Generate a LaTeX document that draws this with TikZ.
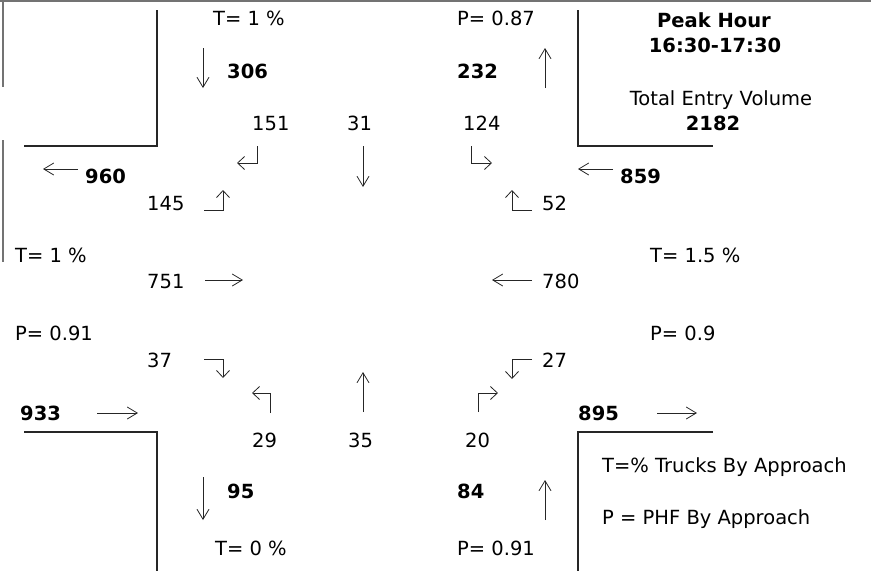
\documentclass[tikz,border=0pt]{standalone}
\usepackage{fontspec}
\setmainfont{DejaVu Sans}
\usetikzlibrary{arrows.meta}
\begin{document}
\begin{tikzpicture}[x=1pt,y=-1pt,
  lbl/.style={anchor=base west,inner sep=0pt,font=\fontsize{19.5}{22}\selectfont},
  blbl/.style={anchor=base west,inner sep=0pt,font=\fontsize{19.5}{22}\selectfont\bfseries},
  clbl/.style={anchor=base,inner sep=0pt,font=\fontsize{19.5}{22}\selectfont},
  cblbl/.style={anchor=base,inner sep=0pt,font=\fontsize{19.5}{22}\selectfont\bfseries},
  mv/.style={draw=black!85,line width=0.8pt,-{Straight Barb[length=10pt,width=12pt]}},
  turn/.style={draw=black!85,line width=0.8pt,-{Straight Barb[length=7pt,width=13pt]}},
  road/.style={draw=black!85,line width=1.2pt},
  frame/.style={draw=black!55,line width=2pt}]
\useasboundingbox (0,0) rectangle (871,571);
% frame remnants
\draw[frame] (0,1) -- (871,1);
\draw[frame] (3,0) -- (3,87);
\draw[frame] (3,140) -- (3,262);
% road edges
\draw[road] (157,10) -- (157,146) -- (24,146);
\draw[road] (578,10) -- (578,146) -- (713,146);
\draw[road] (24,432) -- (157,432) -- (157,571);
\draw[road] (713,432) -- (578,432) -- (578,571);
% header block
\node[cblbl] (ph) at (714,27) {Peak Hour};
\node[cblbl] (tm) at (715,52) {16:30-17:30};
\node[clbl] (tev) at (721,105) {Total Entry Volume};
\node[cblbl] (tot) at (713,130) {2182};
% north approach
\node[lbl] (tn) at (213,25) {T= 1 \%};
\node[blbl] (nin) at (227,78) {306};
\node[lbl] (pn) at (457,25) {P= 0.87};
\node[blbl] (nout) at (457,78) {232};
\draw[mv] (203,48) -- (203,88);
\draw[mv] (545,88) -- (545,48);
\node[lbl] (sbr) at (252,130) {151};
\node[lbl] (sbt) at (347,130) {31};
\node[lbl] (sbl) at (463,130) {124};
\draw[turn] (257,146) -- (257,163) -- (237,163);
\draw[mv] (363,146) -- (363,187);
\draw[turn] (471,146) -- (471,163) -- (492,163);
% west approach
\node[blbl] (wout) at (85,183) {960};
\draw[mv] (78,169) -- (43,169);
\node[lbl] (ebl) at (147,210) {145};
\draw[turn] (204,210) -- (223,210) -- (223,190);
\node[lbl] (tw) at (15,262) {T= 1 \%};
\node[lbl] (ebt) at (147,288) {751};
\draw[mv] (205,280) -- (243,280);
\node[lbl] (pw) at (15,340) {P= 0.91};
\node[lbl] (ebr) at (147,367) {37};
\draw[turn] (204,359) -- (223,359) -- (223,378);
\node[blbl] (win) at (20,420) {933};
\draw[mv] (97,413) -- (138,413);
% east approach
\node[blbl] (ein) at (620,183) {859};
\draw[mv] (613,169) -- (578,169);
\node[lbl] (wbr) at (542,210) {52};
\draw[turn] (532,210) -- (512,210) -- (512,190);
\node[lbl] (te) at (650,262) {T= 1.5 \%};
\node[lbl] (wbt) at (542,288) {780};
\draw[mv] (532,280) -- (492,280);
\node[lbl] (pe) at (650,340) {P= 0.9};
\node[lbl] (wbl) at (542,367) {27};
\draw[turn] (532,359) -- (512,359) -- (512,379);
\node[blbl] (eout) at (578,420) {895};
\draw[mv] (657,413) -- (697,413);
% south approach
\node[lbl] (nbl) at (252,447) {29};
\draw[turn] (270,413) -- (270,393) -- (252,393);
\node[lbl] (nbt) at (348,447) {35};
\draw[mv] (363,412) -- (363,372);
\node[lbl] (nbr) at (465,447) {20};
\draw[turn] (478,412) -- (478,393) -- (498,393);
\node[blbl] (sout) at (227,498) {95};
\draw[mv] (203,477) -- (203,520);
\node[blbl] (sin) at (457,498) {84};
\draw[mv] (545,520) -- (545,480);
\node[lbl] (ts) at (215,555) {T= 0 \%};
\node[lbl] (ps) at (457,555) {P= 0.91};
% legend
\node[lbl] (lg1) at (602,472) {T=\% Trucks By Approach};
\node[lbl] (lg2) at (602,524) {P = PHF By Approach};
\end{tikzpicture}
\end{document}
